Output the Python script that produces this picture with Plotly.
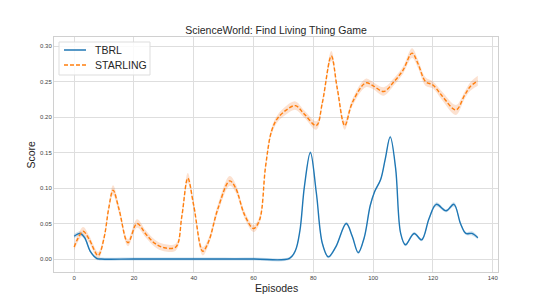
import plotly.graph_objects as go

# ---- data ----
starling_ep = [0, 1, 3, 5, 8, 10, 11.5, 13, 15, 18, 21, 24, 27, 30, 34, 36, 38, 40, 43, 45, 48, 52, 54,
               57, 60, 62, 64, 66, 68, 71, 74, 77, 81, 83, 86, 88, 90.5, 93, 97.5, 100, 103.5, 107,
               110, 113, 115, 117.5, 120, 123, 127.7, 130.5, 132.5, 135]
starling_val = [0.017, 0.027, 0.039, 0.028, 0.005, 0.030, 0.070, 0.097, 0.070, 0.023, 0.050, 0.035,
                0.022, 0.016, 0.017, 0.060, 0.114, 0.075, 0.011, 0.025, 0.070, 0.110, 0.100, 0.062,
                0.043, 0.055, 0.130, 0.180, 0.198, 0.210, 0.216, 0.204, 0.188, 0.220, 0.286, 0.240,
                0.188, 0.220, 0.248, 0.244, 0.236, 0.250, 0.266, 0.290, 0.275, 0.250, 0.245, 0.230,
                0.210, 0.230, 0.243, 0.251]
starling_err = [0.005, 0.005, 0.006, 0.005, 0.005, 0.005, 0.006, 0.007, 0.006, 0.005, 0.006, 0.005,
                0.005, 0.005, 0.005, 0.006, 0.007, 0.006, 0.006, 0.005, 0.006, 0.007, 0.006, 0.005,
                0.005, 0.005, 0.005, 0.005, 0.005, 0.006, 0.006, 0.005, 0.006, 0.005, 0.007, 0.006,
                0.006, 0.005, 0.006, 0.005, 0.006, 0.005, 0.005, 0.007, 0.006, 0.006, 0.005, 0.006,
                0.007, 0.005, 0.006, 0.007]

tbrl_ep = [0, 2, 3.5, 5.5, 7.5, 9, 20, 40, 60, 72, 74, 75.5, 77, 79, 81, 83, 85, 87.5, 91, 93, 95,
           97, 99, 100.5, 102.5, 104, 105.7, 107.5, 109.2, 110.8, 113.7, 116.2, 118.7, 121.1, 124.4,
           127, 129.2, 131, 133, 135]
tbrl_val = [0.032, 0.036, 0.030, 0.010, 0.001, 0.000, 0.000, 0.000, 0.000, 0.001, 0.012, 0.040,
            0.102, 0.150, 0.093, 0.022, 0.003, 0.017, 0.050, 0.032, 0.009, 0.030, 0.075, 0.095,
            0.112, 0.140, 0.172, 0.128, 0.036, 0.020, 0.036, 0.027, 0.057, 0.077, 0.068, 0.077,
            0.050, 0.036, 0.036, 0.030]
tbrl_err = [0.003, 0.003, 0.003, 0.002, 0.002, 0.002, 0.002, 0.002, 0.002, 0.002, 0.002, 0.002,
            0.002, 0.002, 0.002, 0.002, 0.002, 0.002, 0.002, 0.002, 0.002, 0.002, 0.002, 0.002,
            0.002, 0.002, 0.002, 0.002, 0.002, 0.002, 0.002, 0.002, 0.002, 0.003, 0.002, 0.003,
            0.002, 0.002, 0.003, 0.002]

series_names = ["TBRL", "STARLING"]

BLUE = "#1f77b4"
ORANGE = "#ff7f0e"
FONT = "Liberation Sans, Arial, sans-serif"
TXT = "#262626"

W, H = 538, 306
ML, MR, MT, MB = 54, 40, 37, 34
PW, PH = W - ML - MR, H - MT - MB

fig = go.Figure()


def add_band(x, y, err, rgba):
    up = [a + b for a, b in zip(y, err)]
    lo = [a - b for a, b in zip(y, err)]
    fig.add_trace(go.Scatter(x=x, y=up, mode="lines", line=dict(width=0, shape="spline", smoothing=1.0),
                             showlegend=False, hoverinfo="skip"))
    fig.add_trace(go.Scatter(x=x, y=lo, mode="lines", line=dict(width=0, shape="spline", smoothing=1.0),
                             fill="tonexty", fillcolor=rgba, showlegend=False, hoverinfo="skip"))


add_band(tbrl_ep, tbrl_val, tbrl_err, "rgba(31,119,180,0.22)")
add_band(starling_ep, starling_val, starling_err, "rgba(240,120,40,0.22)")

fig.add_trace(go.Scatter(x=tbrl_ep, y=tbrl_val, mode="lines", name=series_names[0], showlegend=False,
                         line=dict(color=BLUE, width=1.4, shape="spline", smoothing=1.0)))
fig.add_trace(go.Scatter(x=starling_ep, y=starling_val, mode="lines", name=series_names[1], showlegend=False,
                         line=dict(color=ORANGE, width=1.4, dash="4px,2px", shape="spline", smoothing=1.0)))


def px_x(px):
    return (px - ML) / PW


def px_y(py):
    return 1 - (py - MT) / PH


# hand-built legend box (matplotlib style)
shapes = [
    dict(type="rect", xref="paper", yref="paper", x0=px_x(59), x1=px_x(150), y0=px_y(75), y1=px_y(42),
         line=dict(color="#dddddd", width=1), fillcolor="rgba(255,255,255,0.85)", layer="above"),
    dict(type="line", xref="paper", yref="paper", x0=px_x(64), x1=px_x(86), y0=px_y(50), y1=px_y(50),
         line=dict(color=BLUE, width=1.5), layer="above"),
    dict(type="line", xref="paper", yref="paper", x0=px_x(64), x1=px_x(86), y0=px_y(65), y1=px_y(65),
         line=dict(color=ORANGE, width=1.5, dash="4px,2px"), layer="above"),
]

annotations = [
    dict(text=series_names[0], xref="paper", yref="paper", x=px_x(93), y=px_y(50), xanchor="left",
         yanchor="middle", showarrow=False, font=dict(size=10.5, color=TXT)),
    dict(text=series_names[1], xref="paper", yref="paper", x=px_x(93), y=px_y(65), xanchor="left",
         yanchor="middle", showarrow=False, font=dict(size=10.5, color=TXT)),
    dict(text="Episodes", xref="paper", yref="paper", x=0.5, y=0, yshift=-16,
         xanchor="center", yanchor="middle", showarrow=False, font=dict(size=10.5, color=TXT)),
    dict(text="Score", xref="paper", yref="paper", x=0, y=0.5, xshift=-24, textangle=-90,
         xanchor="center", yanchor="middle", showarrow=False, font=dict(size=10.5, color=TXT)),
]

axis_common = dict(showline=True, mirror=True, linecolor="#d0d0d0", linewidth=1,
                   showgrid=True, gridcolor="#dedede", gridwidth=1, zeroline=False,
                   ticks="", automargin=False,
                   tickfont=dict(family=FONT, size=6, color="#444444"))

fig.update_layout(
    width=W, height=H,
    margin=dict(l=ML, r=MR, t=MT, b=MB),
    paper_bgcolor="white", plot_bgcolor="white",
    font=dict(family=FONT, color=TXT),
    title=dict(text="ScienceWorld: Find Living Thing Game", xref="paper", x=0.5, xanchor="center",
               yref="container", y=0.902, yanchor="middle", font=dict(size=10.5, color=TXT)),
    xaxis=dict(range=[-6.75, 141.75], tickmode="linear", tick0=0, dtick=20, **axis_common),
    yaxis=dict(range=[-0.0183, 0.3127], tickmode="linear", tick0=0, dtick=0.05, tickformat=".2f",
               **axis_common),
    showlegend=False,
    shapes=shapes,
    annotations=annotations,
)

fig.write_html("out.html", config={"displayModeBar": False},
               post_script="document.body.style.margin='0';document.body.style.padding='0';")
